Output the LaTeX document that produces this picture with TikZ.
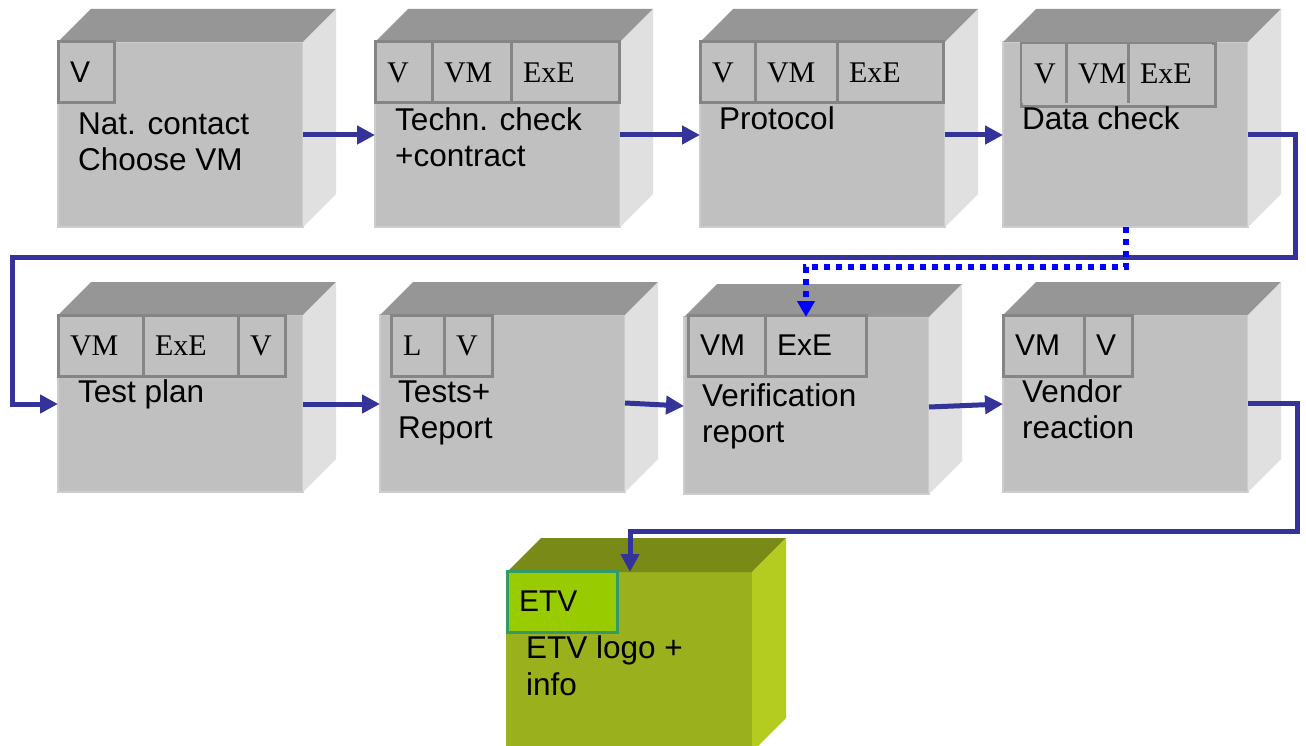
\documentclass[tikz,border=0pt]{standalone}
\usepackage{fontspec}
\setmainfont{Liberation Sans}
\newfontfamily\serifcell{Liberation Serif}
\usetikzlibrary{arrows.meta,calc}
\definecolor{frontc}{HTML}{C0C0C0}
\definecolor{topc}{HTML}{969696}
\definecolor{sidec}{HTML}{E0E0E0}
\definecolor{rimc}{HTML}{CDCDCD}
\definecolor{edgec}{HTML}{858585}
\definecolor{arrowc}{HTML}{333399}
\definecolor{dotc}{HTML}{0000FF}
\definecolor{etvfront}{HTML}{9AB01C}
\definecolor{etvtop}{HTML}{7A8A16}
\definecolor{etvside}{HTML}{B3CC1F}
\definecolor{etvcell}{HTML}{99CC00}
\definecolor{etvedge}{HTML}{339966}

\tikzset{
  frontface/.style={rectangle, anchor=north west, minimum width=245pt, inner sep=0pt, outer sep=0pt, draw=rimc, line width=1.5pt},
  cellbox/.style={rectangle, anchor=north west, draw=edgec, line width=3pt, fill=frontc, minimum height=61pt, inner xsep=12pt, inner ysep=0pt, outer sep=0pt, align=left, font=\fontsize{30}{36}\selectfont},
  serifc/.style={font=\serifcell\fontsize{30}{36}\selectfont},
  txt/.style={anchor=base west, inner sep=0pt, font=\fontsize{31.5}{36}\selectfont},
  conn/.style={draw=arrowc, line width=5pt, line join=miter, -{Triangle[length=18pt,width=18pt]}},
  dotconn/.style={draw=dotc, line width=6pt, dash pattern=on 6pt off 6pt, -{Triangle[length=16pt,width=17pt]}}
}

\newcommand\drawcube[7]{%
  \node[frontface, fill=#5, minimum height=#4pt] (#1) at (#2,#3) {};
  \fill[#6] (#1.north west) -- ++(33,-33) -- ($(#1.north east)+(33,-33)$) -- (#1.north east) -- cycle;
  \fill[#7] (#1.north east) -- ++(33,-33) -- ($(#1.south east)+(33,-33)$) -- (#1.south east) -- cycle;
}
\newcommand\cellnode[6]{%
  \node[cellbox, text width=#4pt, #5] (#1) at (#2,#3) {#6};
}

\begin{document}
\begin{tikzpicture}[x=1pt,y=-1pt]
\useasboundingbox (0,0) rectangle (1306,746);
\clip (0,0) rectangle (1306,746);
\fill[white] (0,0) rectangle (1306,746);

% cubes
\drawcube{b1}{58}{42}{185}{frontc}{topc}{sidec}
\drawcube{b2}{375}{42}{185}{frontc}{topc}{sidec}
\drawcube{b3}{700}{42}{185}{frontc}{topc}{sidec}
\drawcube{b4}{1003}{42}{185}{frontc}{topc}{sidec}
\drawcube{b5}{58}{315}{177}{frontc}{topc}{sidec}
\drawcube{b6}{380}{315}{177}{frontc}{topc}{sidec}
\drawcube{b7}{684}{317}{177}{frontc}{topc}{sidec}
\drawcube{b8}{1003}{315}{177}{frontc}{topc}{sidec}
\node[frontface, fill=etvfront, draw=etvfront, minimum height=180pt] (etv) at (507,572) {};
\fill[etvtop] (etv.north west) -- ++(34,-34) -- ($(etv.north east)+(34,-34)$) -- (etv.north east) -- cycle;
\fill[etvside] (etv.north east) -- ++(34,-34) -- ($(etv.south east)+(34,-34)$) -- (etv.south east) -- cycle;

% role cells
\cellnode{c1v}{58}{42}{32}{}{V}
\cellnode{c2v}{375}{42}{33}{serifc}{V}
\cellnode{c2vm}{432}{42}{55}{serifc}{VM}
\cellnode{c2e}{511}{42}{84}{serifc}{ExE}
\cellnode{c3v}{700}{42}{31}{serifc}{V}
\cellnode{c3vm}{755}{42}{58}{serifc}{VM}
\cellnode{c3e}{837}{42}{82}{serifc}{ExE}
\node[rectangle, anchor=north west, draw=edgec, line width=3pt, minimum width=194pt, minimum height=63pt, inner sep=0pt] (c4frame) at (1020,42) {};
\cellnode{c4v}{1022}{44}{22}{serifc, draw=none, minimum height=59pt}{V}
\cellnode{c4vm}{1066}{44}{38}{serifc, draw=none, minimum height=59pt}{VM}
\cellnode{c4e}{1128}{44}{60}{serifc, draw=none, minimum height=59pt}{ExE}
\draw[edgec, line width=3pt] (c4vm.north west) -- (c4vm.south west);
\draw[edgec, line width=3pt] (c4e.north west) -- (c4e.south west);
\cellnode{c5vm}{58}{315}{61}{serifc}{VM}
\cellnode{c5e}{143}{315}{71}{serifc}{ExE}
\cellnode{c5v}{238}{315}{23}{serifc}{V}
\cellnode{c6l}{391}{315}{29}{serifc}{L}
\cellnode{c6v}{444}{315}{24}{serifc}{V}
\cellnode{c7vm}{688}{315}{53}{}{VM}
\cellnode{c7e}{765}{315}{77}{}{ExE}
\cellnode{c8vm}{1003}{315}{57}{}{VM}
\cellnode{c8v}{1084}{315}{24}{}{V}
\cellnode{cetv}{507}{571}{86}{draw=etvedge, fill=etvcell}{ETV}

% step texts
\node[txt] (t1a) at (78,135) {Nat. contact};
\node[txt] (t1b) at (78,171) {Choose VM};
\node[txt] (t2a) at (395,131) {Techn. check};
\node[txt] (t2b) at (395,167) {+contract};
\node[txt] (t3a) at (719,130) {Protocol};
\node[txt] (t4a) at (1022,130) {Data check};
\node[txt] (t5a) at (78,402) {Test plan};
\node[txt] (t6a) at (398,402) {Tests+};
\node[txt] (t6b) at (398,438) {Report};
\node[txt] (t7a) at (702,406) {Verification};
\node[txt] (t7b) at (702,442) {report};
\node[txt] (t8a) at (1022,402) {Vendor};
\node[txt] (t8b) at (1022,438) {reaction};
\node[txt] (t9a) at (526,658) {ETV logo +};
\node[txt] (t9b) at (526,695) {info};

% connectors
\draw[conn] ($(b1.north east)+(0,93)$) -- ($(b2.north west)+(0,93)$);
\draw[conn] ($(b2.north east)+(0,93)$) -- ($(b3.north west)+(0,93)$);
\draw[conn] ($(b3.north east)+(0,93)$) -- ($(b4.north west)+(0,93)$);
\coordinate (turnA) at (1295,257);
\coordinate (turnB) at (12,257);
\draw[conn] ($(b4.north east)+(0,93)$) -| (turnA) -- (turnB) |- ($(b5.north west)+(0,89)$);
\draw[conn] ($(b5.north east)+(0,89)$) -- ($(b6.north west)+(0,89)$);
\draw[conn] ($(b6.north east)+(0,88)$) -- ($(b7.north west)+(0,89)$);
\draw[conn] ($(b7.north east)+(0,90)$) -- ($(b8.north west)+(0,89)$);
\coordinate (turnC) at (1297,531);
\draw[conn] ($(b8.north east)+(0,88)$) -| (turnC) -| ($(etv.north west)+(123,0)$);
\coordinate (turnD) at ($(b4.south west)+(123,40)$);
\draw[dotconn] ($(b4.south west)+(123,0)$) -- (turnD) -| ($(b7.north west)+(122,0)$);
\end{tikzpicture}
\end{document}
